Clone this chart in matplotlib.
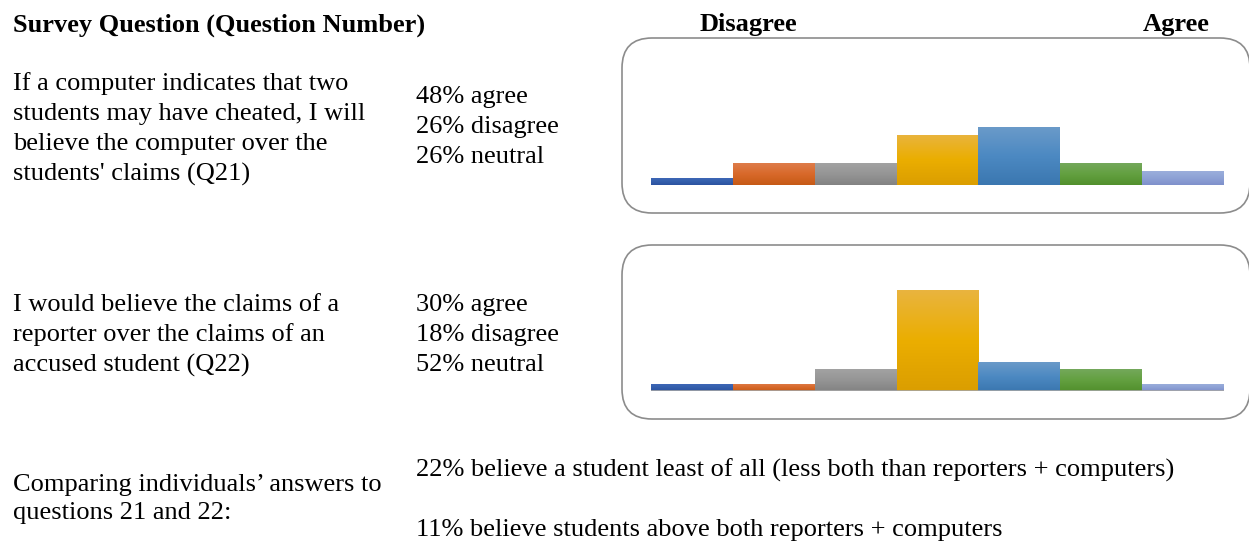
import numpy as np
import matplotlib
matplotlib.use("Agg")
import matplotlib.pyplot as plt
from matplotlib.colors import LinearSegmentedColormap
from matplotlib.patches import FancyBboxPatch
from matplotlib.transforms import IdentityTransform

# responses per Likert level (disagree -> agree), counts
levels = ["1", "2", "3", "4", "5", "6", "7"]
q21_counts = [1, 3, 3, 7, 8, 3, 2]
q22_counts = [1, 1, 3, 14, 4, 3, 1]

# gradient stops (top, middle, bottom) per level
bar_colors = [
    ("#4068b8", "#3560ad", "#2b52a0"),
    ("#de7c4a", "#d8692a", "#c65a16"),
    ("#a2a2a2", "#959595", "#838383"),
    ("#e9b43e", "#ebae00", "#db9e00"),
    ("#6a9ac9", "#4c89c2", "#3b77b0"),
    ("#74a85b", "#63a040", "#52902d"),
    ("#9db0dc", "#8fa3d6", "#7f90cb"),
]

q21_text = ["If a computer indicates that two",
            "students may have cheated, I will",
            "believe the computer over the",
            "students' claims (Q21)"]
q21_stats = ["48% agree", "26% disagree", "26% neutral"]
q22_text = ["I would believe the claims of a",
            "reporter over the claims of an",
            "accused student (Q22)"]
q22_stats = ["30% agree", "18% disagree", "52% neutral"]
cmp_text = ["Comparing individuals\u2019 answers to", "questions 21 and 22:"]
cmp_stats = ["22% believe a student least of all (less both than reporters + computers)",
             "11% believe students above both reporters + computers"]

plt.rcParams["font.family"] = ["Liberation Serif", "DejaVu Serif"]

W, H = 1249, 544
fig = plt.figure(figsize=(W / 100, H / 100), dpi=100)


def fx(x):
    return x / W


def fy(y):
    return 1 - y / H


def put(x, y, s, size=19, **kw):
    fig.text(fx(x), fy(y), s, fontsize=size, va="center", ha=kw.pop("ha", "left"), **kw)


# header
put(13, 25, "Survey Question (Question Number)", weight="bold")
put(748, 25, "Disagree", weight="bold", ha="center")
put(1176, 25, "Agree", weight="bold", ha="center")

for i, s in enumerate(q21_text):
    put(13, 84 + 30 * i, s)
for i, s in enumerate(q21_stats):
    put(416, 97 + 30 * i, s)
for i, s in enumerate(q22_text):
    put(13, 305 + 30 * i, s)
for i, s in enumerate(q22_stats):
    put(416, 305 + 30 * i, s)
put(13, 485, cmp_text[0])
put(13, 513, cmp_text[1])
put(416, 470, cmp_stats[0])
put(416, 530, cmp_stats[1])


def histogram(counts, box_top, box_bot, base_y, baseline=False):
    # rounded frame, drawn in pixel units
    box = FancyBboxPatch((622, H - box_bot), 1250 - 622, box_bot - box_top,
                         boxstyle="round,pad=0,rounding_size=30",
                         transform=IdentityTransform(), facecolor="none",
                         edgecolor="#8c8c8c", linewidth=1.2, zorder=-1)
    fig.patches.append(box)
    ax = fig.add_axes([fx(651), fy(base_y), fx(1224 - 651), 144 / H])
    ax.patch.set_alpha(0)
    x = np.arange(len(counts))
    bars = ax.bar(x, counts, width=1.0, align="edge", facecolor="none", edgecolor="none")
    for b, cols in zip(bars, bar_colors):
        cmap = LinearSegmentedColormap.from_list("g", [cols[2], cols[1], cols[0]])
        grad = np.linspace(0, 1, 64).reshape(-1, 1)
        x0, y0 = b.get_x(), b.get_y()
        im = ax.imshow(grad, cmap=cmap, origin="lower", aspect="auto",
                       extent=[x0, x0 + b.get_width(), y0, y0 + b.get_height()])
        im.set_clip_path(b)
    ax.set_xlim(0, len(counts))
    ax.set_ylim(0, 20)
    ax.axis("off")
    if baseline:
        ax.axhline(0, color="#a6a6a6", linewidth=1.2)
    return ax


histogram(q21_counts, 38, 213, 185)
histogram(q22_counts, 245, 419, 391, baseline=True)

fig.savefig("out.png", dpi=100)
